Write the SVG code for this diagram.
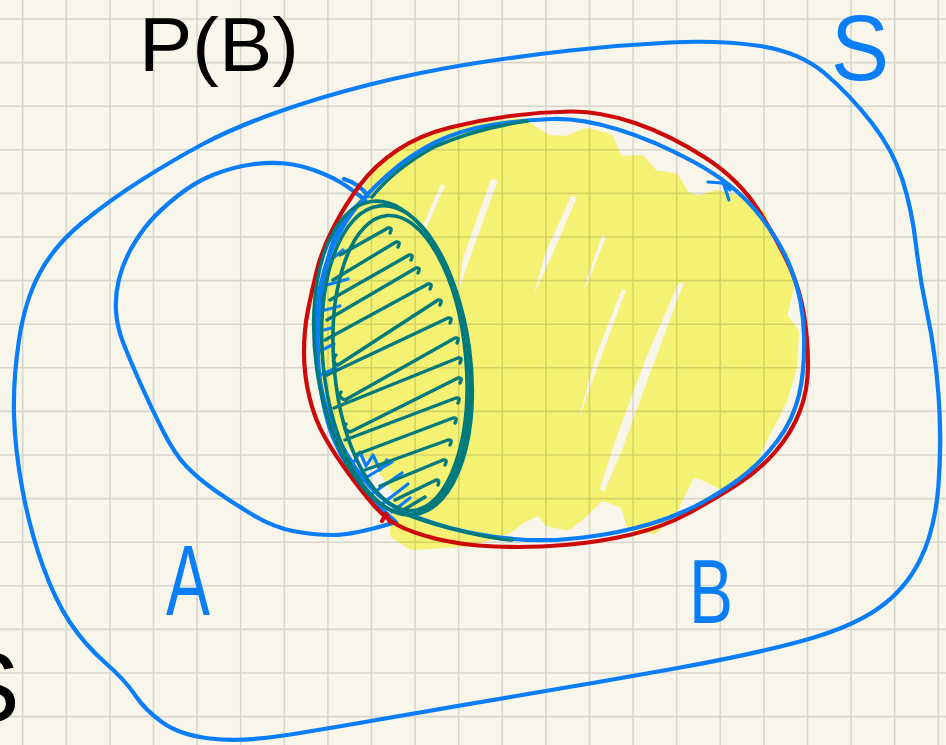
<svg xmlns="http://www.w3.org/2000/svg" width="946" height="745" viewBox="0 0 946 745">
<defs>
<style>
.bg{fill:#f8f6eb}
.grid{fill:none;stroke:#000;stroke-opacity:0.13;stroke-width:1.6}
.blue{fill:none;stroke:#0a7ef8;stroke-width:4.2;stroke-linecap:round;stroke-linejoin:round}
.blueh{fill:none;stroke:#0a7ef8;stroke-width:3.2;stroke-linecap:round;stroke-linejoin:round}
.red{fill:none;stroke:#cc0a0a;stroke-width:4.2;stroke-linecap:round;stroke-linejoin:round}
.teal{fill:none;stroke:#007a7c;stroke-width:3.6;stroke-linecap:round;stroke-linejoin:round}
.tealh{fill:none;stroke:#007a7c;stroke-width:3.4;stroke-linecap:round;stroke-linejoin:round}
.yellow{fill:#f5f273;stroke:#f5f273;stroke-width:14;stroke-linejoin:round}
.gap{fill:#f8f6eb}
.lbl{font-family:"Liberation Sans",Arial,sans-serif}
</style>
</defs>
<rect class="bg" x="0" y="0" width="946" height="745"/>

<g id="highlight-PB">
<path class="yellow" d="M400,157 L440,137 L480,130 L520,125 L547,142 L567,143 L587,135 L607,140 L617,163 L640,162 L653,177 L673,180 L683,197 L697,203 L717,197 L740,203 L760,217 L767,247 L783,257 L787,287 L780,317 L792,333 L790,367 L780,400 L763,433 L747,467 L723,483 L703,473 L690,470 L670,510 L653,527 L633,523 L627,503 L613,497 L600,493 L580,513 L567,523 L550,520 L540,507 L520,517 L507,527 L490,533 L463,540 L413,543 L397,533 L400,490 L375,455 L345,440 L335,420 L328,390 L327,350 L330,300 L340,260 L355,220 L375,180 Z"/>
<path class="gap" d="M441,184 L445,186 L424,233 L419,234 Z"/>
<path class="gap" d="M491,179 L498,180 L472,252 L458,292 L463,258 Z"/>
<path class="gap" d="M571,196 L577,197 L550,260 L534,294 L545,254 Z"/>
<path class="gap" d="M602,236 L606,237 L588,282 L583,291 L590,270 Z"/>
<path class="gap" d="M622,289 L626,290 L600,360 L578,421 L596,355 Z"/>
<path class="gap" d="M678,284 L684,282 L652,368 L622,450 L604,492 L600,489 L615,441 L646,358 Z"/>
</g>

<path class="grid" d="M22.7,0V745M66.3,0V745M109.9,0V745M153.5,0V745M197.1,0V745M240.7,0V745M284.3,0V745M327.9,0V745M371.5,0V745M415.1,0V745M458.7,0V745M502.3,0V745M545.9,0V745M589.5,0V745M633.1,0V745M676.7,0V745M720.3,0V745M763.9,0V745M807.5,0V745M851.1,0V745M894.7,0V745M938.3,0V745M0,19H946M0,62.6H946M0,106.2H946M0,149.8H946M0,193.4H946M0,237H946M0,280.6H946M0,324.2H946M0,367.8H946M0,411.4H946M0,455H946M0,498.6H946M0,542.2H946M0,585.8H946M0,629.4H946M0,673H946M0,716.6H946"/>

<g id="set-S">
<path class="blue" d="M203,144 Q233,128 276.5,112.5 Q320,97 370,84.5 Q420,72 470,64 Q520,56 570,50.5 Q620,45 670,42.5 Q720,40 760,46 Q800,52 825,73.5 Q850,95 871.5,122.5 Q893,150 902.5,180 Q912,210 916,245 Q920,280 927.5,315 Q935,350 938.5,395 Q942,440 938.5,485 Q935,530 920,560 Q905,590 877.5,609 Q850,628 800,641.5 Q750,655 675,668.5 Q600,682 525,694.5 Q450,707 385,718.5 Q320,730 280,736 Q240,742 210,738.5 Q180,735 162.5,722.5 Q145,710 135,695 Q125,680 105,662.5 Q85,645 70,622.5 Q55,600 42.5,565 Q30,530 22.5,490 Q15,450 14,415 Q13,380 19,340 Q25,300 40,272.5 Q55,245 82.5,222.5 Q110,200 141.5,180 Q173,160 203,144 Z"/>
<text class="lbl" x="831" y="80" font-size="92" fill="#0a7ef8" textLength="58" lengthAdjust="spacingAndGlyphs">S</text>
</g>

<g id="set-A">
<path class="blue" d="M393,523 Q353,535 333,535 Q313,535 293,531 Q273,527 253,515 Q233,503 216.5,491.5 Q200,480 187.5,467.5 Q175,455 162.5,430 Q150,405 140,382.5 Q130,360 123.5,343.5 Q117,327 116,311 Q115,295 119,279 Q123,263 131.5,248 Q140,233 150,221.5 Q160,210 177.5,196 Q195,182 214,174.5 Q233,167 251.5,164.5 Q270,162 285,163.5 Q300,165 315,170.5 Q330,176 340,182 Q350,188 365,200"/>
<path class="blue" d="M344,179 Q360,184 368,196 M365,200 Q342,214 332,245 Q320,282 318,330 Q316,390 332,435 Q346,470 370,496 Q384,512 396,522"/>
<path class="blueh" d="M327,263 L343,250 M320,287 L348,279 M318,312 L340,306 M317,332 L331,328 M318,352 L334,344 M320,375 L336,368 M345,455 L352,465 L360,452 L366,466 L373,455 L380,470 L387,460 M362,480 L392,462 M373,493 L402,473 M382,504 L408,484 M392,512 L410,498"/>
<text class="lbl" x="166" y="615" font-size="100" fill="#0a7ef8" textLength="44" lengthAdjust="spacingAndGlyphs">A</text>
</g>

<g id="set-B">
<path class="red" d="M570,111.5 Q600,111 635,123 Q670,135 705,157.5 Q740,180 760,212.5 Q780,245 790,267.5 Q800,290 804,315 Q808,340 808,365 Q808,390 800,411 Q792,432 776,451 Q760,470 736.5,485 Q713,500 688,513.5 Q663,527 631.5,534.5 Q600,542 565,545 Q530,548 495,546.5 Q460,545 435,538.5 Q410,532 397.5,525 Q385,518 374,505.5 Q363,493 349,474 Q335,455 325,437.5 Q315,420 309.5,397.5 Q304,375 304,352.5 Q304,330 308,310 Q312,290 317,270 Q322,250 333.5,227.5 Q345,205 360,185 Q375,165 397.5,150 Q420,135 450,127.5 Q480,120 510,116 Q540,112 570,111.5 Z"/>
<path class="red" d="M382,521 L386,514 L390,522"/>
<path class="blue" d="M551.5,119 Q580,118 616.5,129 Q653,140 693,161.5 Q733,183 756.5,211.5 Q780,240 791.5,270 Q803,300 804,335 Q805,370 799,395 Q793,420 778,440 Q763,460 746.5,473.5 Q730,487 705,501 Q680,515 650,524 Q620,533 583.5,537.5 Q547,542 513.5,539 Q480,536 450,528 Q420,520 400,510 Q380,500 362.5,477.5 Q345,455 333.5,427.5 Q322,400 318,370 Q314,340 317,310 Q320,280 329,256 Q338,232 351.5,213.5 Q365,195 387.5,175 Q410,155 435,142.5 Q460,130 491.5,125 Q523,120 551.5,119 Z"/>
<path class="blueh" d="M708,182 L722,183 L730,190 M724,185 L729,200"/>
<text class="lbl" x="689" y="623" font-size="90" fill="#0a7ef8" textLength="44" lengthAdjust="spacingAndGlyphs">B</text>
</g>

<g id="intersection-A-B">
<path class="teal" d="M527,121 Q478,128 436,146 Q395,168 372,197"/>
<path class="teal" d="M400,512 Q430,524 470,533 Q495,539 512,540"/>
<ellipse class="teal" cx="396" cy="360" rx="73" ry="155" transform="rotate(-6 396 360)"/>
<ellipse class="teal" cx="400" cy="363" rx="66" ry="148" transform="rotate(-5 400 363)"/>
<ellipse class="teal" cx="393" cy="358" rx="77" ry="158" transform="rotate(-8 393 358)"/>
<path class="tealh" d="M340,255 L388,228 q5,-1 2,5 M333,280 L396,242 q5,-1 2,5 M330,300 L409,255 q5,-1 2,5 M327,320 L416,268 q5,-1 2,5 M325,340 L428,284 q5,-1 2,5 M338,365 L438,300 q5,-1 2,5 M327,375 L448,318 q5,-1 2,5 M345,400 L455,338 q5,-1 2,5 M334,408 L458,358 q5,-1 2,5 M350,432 L458,378 q5,-1 2,5 M345,440 L456,398 q5,-1 2,5 M355,455 L453,418 q5,-1 2,5 M365,470 L448,440 q5,-1 2,5 M380,486 L443,460 q5,-1 2,5 M395,500 L436,480 q4,-1 2,5 M400,512 L425,497 M338,365 q-8,-3 -2,-10 M345,400 q-8,-3 -4,-8 M350,432 q-8,-3 -4,-8"/>
</g>

<g id="title">
<text class="lbl" x="139" y="71" font-size="76" fill="#000" textLength="160" lengthAdjust="spacingAndGlyphs">P(B)</text>
<text class="lbl" x="-47" y="722" font-size="100" fill="#000">S</text>
</g>
</svg>
